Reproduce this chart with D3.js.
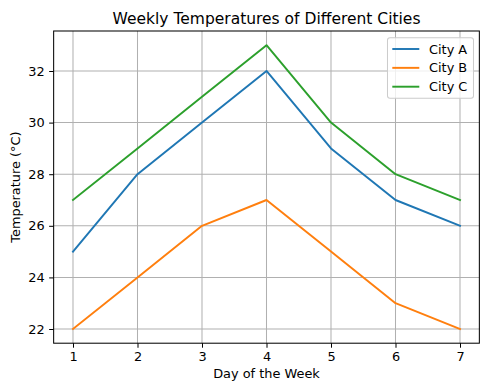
<!DOCTYPE html>
<html><head><meta charset="utf-8">
<script src="https://cdn.jsdelivr.net/npm/d3@7"></script>
<style>body{margin:0;background:#fff}svg{display:block;font-family:"DejaVu Sans",sans-serif}</style>
</head><body><svg id="c" width="500" height="383"></svg>
<script>
const days = [1,2,3,4,5,6,7];
const cityA = [25,28,30,32,29,27,26];
const cityB = [22,24,26,27,25,23,22];
const cityC = [27,29,31,33,30,28,27];
const seriesNames = ["City A","City B","City C"];
const colors = ["#1f77b4","#ff7f0e","#2ca02c"];
const yTicks = [22,24,26,28,30,32];
const series = [cityA, cityB, cityC];

const FS = 12.9, TS = 15.5, LW = 1.94, GW = 1.03, TK = 4.5;
const svg = d3.select("#c");
const L=53.65, R=479.35, T=31, B=343.2;
const x = d3.scaleLinear().domain([0.7,7.3]).range([L,R]);
const y = d3.scaleLinear().domain([21.45,33.55]).range([B,T]);

// grid
const g = svg.append("g");
g.selectAll(".gx").data(days).enter().append("line")
 .attr("x1",d=>x(d)).attr("x2",d=>x(d)).attr("y1",T).attr("y2",B)
 .attr("stroke","#b0b0b0").attr("stroke-width",GW);
g.selectAll(".gy").data(yTicks).enter().append("line")
 .attr("y1",d=>y(d)).attr("y2",d=>y(d)).attr("x1",L).attr("x2",R)
 .attr("stroke","#b0b0b0").attr("stroke-width",GW);

// lines
const line = d3.line().x((d,i)=>x(days[i])).y(d=>y(d));
series.forEach((s,i)=>{
  svg.append("path").datum(s).attr("d",line).attr("fill","none")
   .attr("stroke",colors[i]).attr("stroke-width",LW).attr("stroke-linecap","square").attr("stroke-linejoin","round");
});

// axes
const xa = svg.append("g").attr("transform",`translate(0,${B})`)
 .call(d3.axisBottom(x).tickValues(days).tickFormat(d3.format("d")).tickSizeOuter(0).tickSize(TK).tickPadding(TK));
const ya = svg.append("g").attr("transform",`translate(${L},0)`)
 .call(d3.axisLeft(y).tickValues(yTicks).tickFormat(d3.format("d")).tickSizeOuter(0).tickSize(TK).tickPadding(TK));
[xa,ya].forEach(a=>{
  a.select(".domain").remove();
  a.selectAll("text").attr("font-size",FS).attr("fill","#000").attr("font-family","DejaVu Sans");
  a.selectAll("line").attr("stroke","#000").attr("stroke-width",GW);
});
svg.append("rect").attr("x",L).attr("y",T).attr("width",R-L).attr("height",B-T)
 .attr("fill","none").attr("stroke","#000").attr("stroke-width",GW);

// labels
svg.append("text").attr("x",(L+R)/2).attr("y",24).attr("text-anchor","middle")
 .attr("font-size",TS).text("Weekly Temperatures of Different Cities");
svg.append("text").attr("x",(L+R)/2).attr("y",377.5).attr("text-anchor","middle")
 .attr("font-size",FS).text("Day of the Week");
svg.append("text").attr("transform",`translate(19.5,${(T+B)/2}) rotate(-90)`).attr("text-anchor","middle")
 .attr("font-size",FS).text("Temperature (°C)");

// legend
const lg = svg.append("g");
lg.append("rect").attr("x",387.5).attr("y",37.7).attr("width",86).attr("height",60.6).attr("rx",2.5)
 .attr("fill","#fff").attr("fill-opacity",0.8).attr("stroke","#cccccc").attr("stroke-width",GW);
seriesNames.forEach((n,i)=>{
  const yy = 49 + i*18.85;
  lg.append("line").attr("x1",392.3).attr("x2",419.3).attr("y1",yy).attr("y2",yy)
   .attr("stroke",colors[i]).attr("stroke-width",LW);
  lg.append("text").attr("x",429).attr("y",yy+4.6).attr("font-size",FS).text(n);
});
</script></body></html>
